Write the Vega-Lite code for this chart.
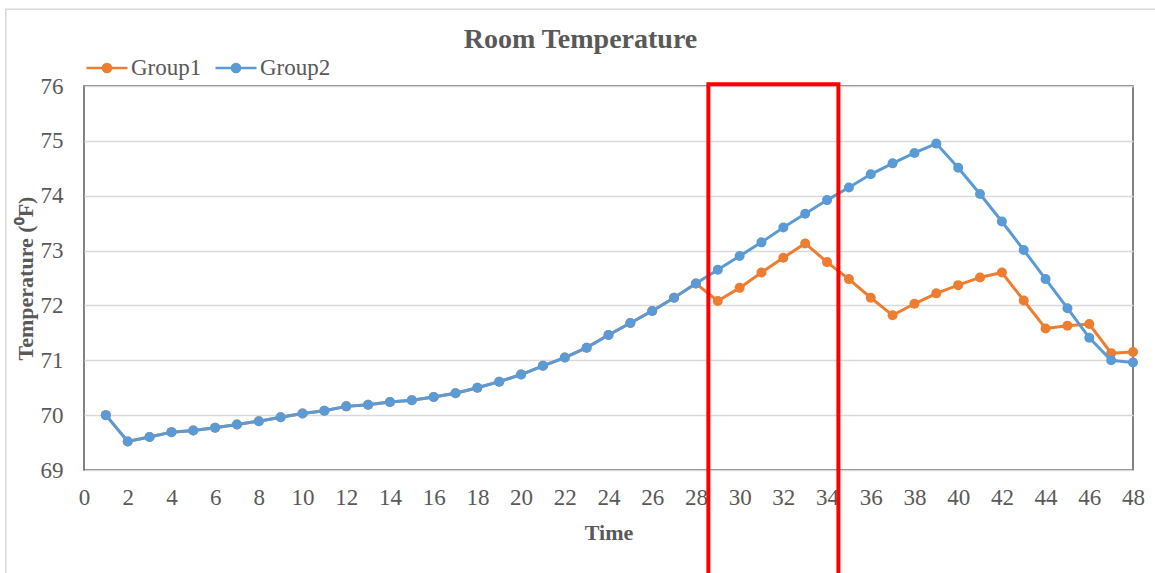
{
  "$schema": "https://vega.github.io/schema/vega-lite/v6.json",
  "width": 1049,
  "height": 384,
  "autosize": {"type": "none"},
  "padding": {"left": 84, "top": 86, "right": 22, "bottom": 103},
  "background": "white",
  "title": {
    "text": "Room Temperature",
    "font": "Liberation Serif",
    "fontSize": 28,
    "fontWeight": "bold",
    "color": "#595959",
    "anchor": "middle",
    "frame": "group",
    "baseline": "alphabetic",
    "dx": -28,
    "dy": 68,
    "offset": 0
  },
  "config": {
    "view": {"stroke": "#595959", "strokeWidth": 1.5},
    "axis": {
      "labelFont": "Liberation Serif",
      "labelFontSize": 23,
      "labelColor": "#595959",
      "titleFont": "Liberation Serif",
      "titleFontSize": 22,
      "titleFontWeight": "bold",
      "titleColor": "#595959",
      "ticks": false,
      "domain": false,
      "labelFlush": false,
      "labelOverlap": false,
      "gridColor": "#d9d9d9",
      "gridWidth": 1.3
    }
  },
  "datasets": {
    "temps": [
      {"t": 1, "Group1": 70.00, "Group2": 70.00},
      {"t": 2, "Group1": 69.52, "Group2": 69.52},
      {"t": 3, "Group1": 69.60, "Group2": 69.60},
      {"t": 4, "Group1": 69.69, "Group2": 69.69},
      {"t": 5, "Group1": 69.72, "Group2": 69.72},
      {"t": 6, "Group1": 69.77, "Group2": 69.77},
      {"t": 7, "Group1": 69.83, "Group2": 69.83},
      {"t": 8, "Group1": 69.89, "Group2": 69.89},
      {"t": 9, "Group1": 69.96, "Group2": 69.96},
      {"t": 10, "Group1": 70.03, "Group2": 70.03},
      {"t": 11, "Group1": 70.08, "Group2": 70.08},
      {"t": 12, "Group1": 70.16, "Group2": 70.16},
      {"t": 13, "Group1": 70.19, "Group2": 70.19},
      {"t": 14, "Group1": 70.24, "Group2": 70.24},
      {"t": 15, "Group1": 70.27, "Group2": 70.27},
      {"t": 16, "Group1": 70.33, "Group2": 70.33},
      {"t": 17, "Group1": 70.40, "Group2": 70.40},
      {"t": 18, "Group1": 70.50, "Group2": 70.50},
      {"t": 19, "Group1": 70.61, "Group2": 70.61},
      {"t": 20, "Group1": 70.74, "Group2": 70.74},
      {"t": 21, "Group1": 70.90, "Group2": 70.90},
      {"t": 22, "Group1": 71.05, "Group2": 71.05},
      {"t": 23, "Group1": 71.23, "Group2": 71.23},
      {"t": 24, "Group1": 71.46, "Group2": 71.46},
      {"t": 25, "Group1": 71.68, "Group2": 71.68},
      {"t": 26, "Group1": 71.90, "Group2": 71.90},
      {"t": 27, "Group1": 72.14, "Group2": 72.14},
      {"t": 28, "Group1": 72.40, "Group2": 72.40},
      {"t": 29, "Group1": 72.08, "Group2": 72.65},
      {"t": 30, "Group1": 72.32, "Group2": 72.90},
      {"t": 31, "Group1": 72.60, "Group2": 73.15},
      {"t": 32, "Group1": 72.87, "Group2": 73.42},
      {"t": 33, "Group1": 73.13, "Group2": 73.67},
      {"t": 34, "Group1": 72.79, "Group2": 73.92},
      {"t": 35, "Group1": 72.48, "Group2": 74.15},
      {"t": 36, "Group1": 72.14, "Group2": 74.39},
      {"t": 37, "Group1": 71.82, "Group2": 74.59},
      {"t": 38, "Group1": 72.03, "Group2": 74.78},
      {"t": 39, "Group1": 72.22, "Group2": 74.95},
      {"t": 40, "Group1": 72.37, "Group2": 74.51},
      {"t": 41, "Group1": 72.51, "Group2": 74.03},
      {"t": 42, "Group1": 72.60, "Group2": 73.53},
      {"t": 43, "Group1": 72.09, "Group2": 73.01},
      {"t": 44, "Group1": 71.58, "Group2": 72.48},
      {"t": 45, "Group1": 71.63, "Group2": 71.95},
      {"t": 46, "Group1": 71.66, "Group2": 71.41},
      {"t": 47, "Group1": 71.13, "Group2": 71.00},
      {"t": 48, "Group1": 71.15, "Group2": 70.96}
    ],
    "highlight": [{"t1": 28.57, "t2": 34.52, "v1": 76.03, "v2": 66}],
    "frame": [{"t1": -3.58, "t2": 50, "v1": 77.4, "v2": 66}]
  },
  "layer": [
    {
      "data": {"name": "frame"},
      "mark": {"type": "rect", "fill": null, "stroke": "#d9d9d9", "strokeWidth": 1.5, "clip": false},
      "encoding": {
        "x": {"field": "t1", "type": "quantitative"},
        "x2": {"field": "t2"},
        "y": {"field": "v1", "type": "quantitative"},
        "y2": {"field": "v2"}
      }
    },
    {
      "data": {"name": "temps"},
      "transform": [
        {"fold": ["Group1", "Group2"], "as": ["group", "temp"]},
        {"filter": "datum.group === 'Group1'"}
      ],
      "mark": {"type": "line", "strokeWidth": 3, "point": {"filled": true, "size": 100, "opacity": 1}},
      "encoding": {
        "x": {"field": "t", "type": "quantitative"},
        "y": {"field": "temp", "type": "quantitative"},
        "color": {"field": "group", "type": "nominal"}
      }
    },
    {
      "data": {"name": "temps"},
      "transform": [
        {"fold": ["Group1", "Group2"], "as": ["group", "temp"]},
        {"filter": "datum.group === 'Group2'"}
      ],
      "mark": {"type": "line", "strokeWidth": 3, "point": {"filled": true, "size": 100, "opacity": 1}},
      "encoding": {
        "x": {
          "field": "t", "type": "quantitative",
          "scale": {"domain": [0, 48], "nice": false, "zero": false},
          "axis": {"values": [0,2,4,6,8,10,12,14,16,18,20,22,24,26,28,30,32,34,36,38,40,42,44,46,48], "format": "d", "grid": false, "labelPadding": 16, "title": "Time", "titleY": 69, "titleBaseline": "alphabetic"}
        },
        "y": {
          "field": "temp", "type": "quantitative",
          "scale": {"domain": [69, 76], "nice": false, "zero": false},
          "axis": {"values": [69,70,71,72,73,74,75,76], "format": "d", "labelPadding": 21, "title": "Temperature  (⁰F)", "titleX": -52, "titleBaseline": "alphabetic", "titleAngle": -90}
        },
        "color": {
          "field": "group", "type": "nominal",
          "scale": {"domain": ["Group1", "Group2"], "range": ["#ED7D31", "#5B9BD5"]},
          "legend": {
            "title": null,
            "orient": "none",
            "direction": "horizontal",
            "legendX": 1,
            "legendY": -40,
            "padding": 0,
            "columnPadding": 8,
            "labelOffset": 2,
            "labelFont": "Liberation Serif",
            "labelFontSize": 23,
            "labelColor": "#595959",
            "symbolType": "M-1,0H1M-0.2,0A0.2,0.2,0,1,1,0.2,0A0.2,0.2,0,1,1,-0.2,0Z",
            "symbolSize": 1681,
            "symbolStrokeWidth": 2.5,
            "encode": {"symbols": {"update": {"fill": {"scale": "color", "field": "value"}, "stroke": {"scale": "color", "field": "value"}, "opacity": {"value": 1}}}}
          }
        }
      }
    },
    {
      "data": {"name": "highlight"},
      "mark": {"type": "rect", "fill": null, "stroke": "#FF0000", "strokeWidth": 4, "clip": false},
      "encoding": {
        "x": {"field": "t1", "type": "quantitative"},
        "x2": {"field": "t2"},
        "y": {"field": "v1", "type": "quantitative"},
        "y2": {"field": "v2"}
      }
    }
  ]
}
